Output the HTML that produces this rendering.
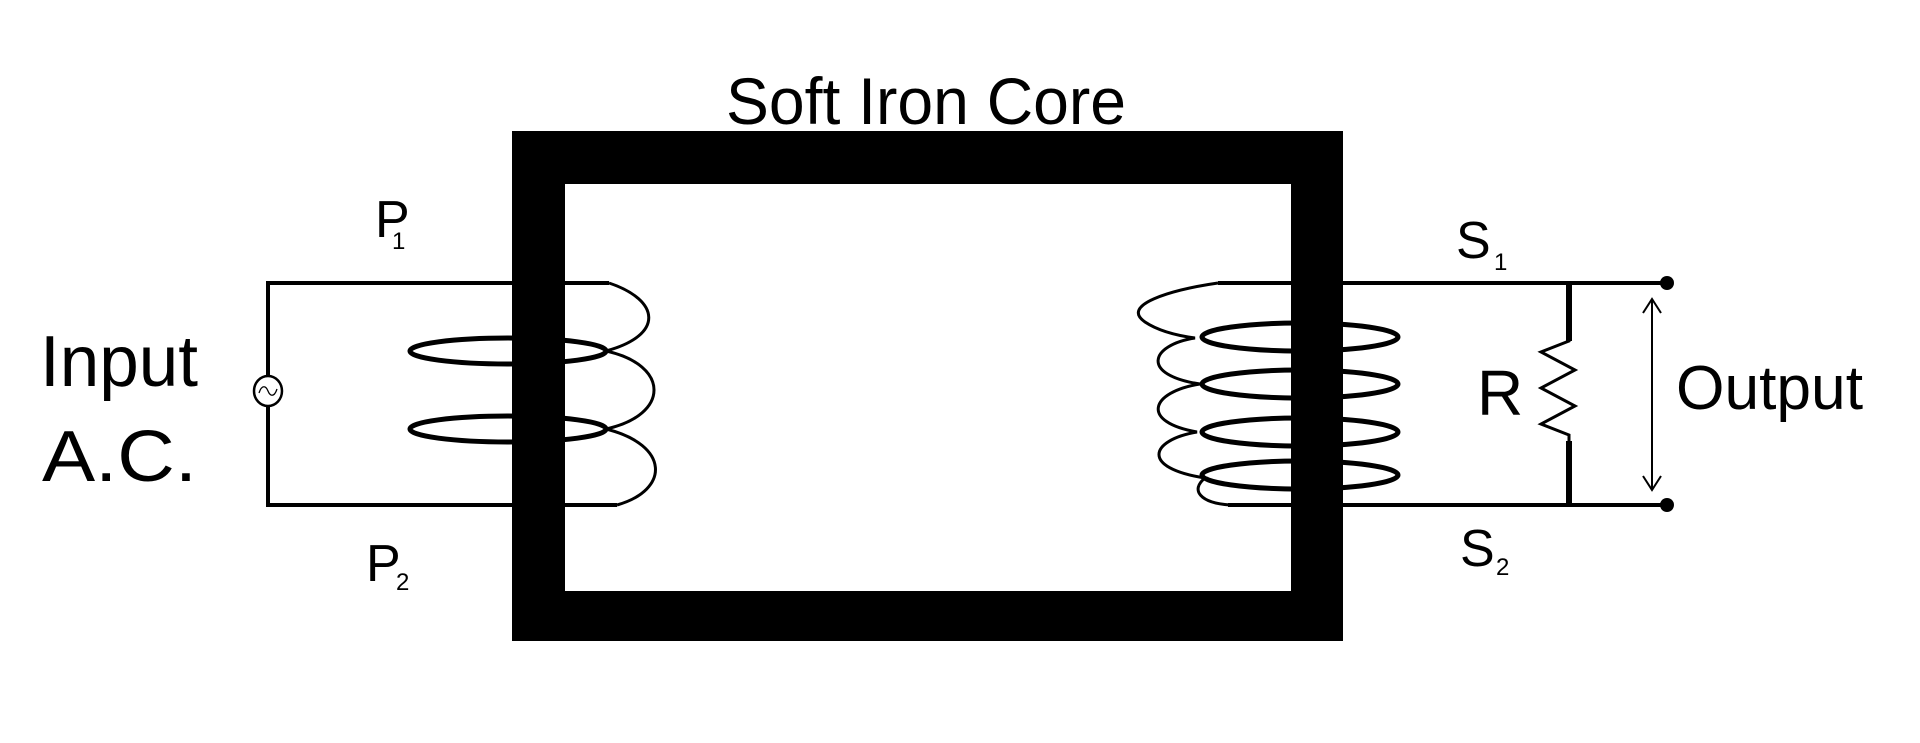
<!DOCTYPE html>
<html><head><meta charset="utf-8"><style>
html,body{margin:0;padding:0;background:#fff;}
svg{display:block}
text{font-family:"Liberation Sans",sans-serif;fill:#000}
</style></head><body>
<svg width="1920" height="743" viewBox="0 0 1920 743" xmlns="http://www.w3.org/2000/svg">
<!-- primary circuit wires -->
<g fill="none" stroke="#000" stroke-width="4">
<polyline points="609,283 268,283 268,376"/>
<polyline points="268,406 268,505 617,505"/>
</g>
<ellipse cx="268" cy="391" rx="14" ry="15" fill="#fff" stroke="#000" stroke-width="2.5"/>
<path d="M259,393 C262,384 266,386 268,391 C270,396 274,398 277,389" fill="none" stroke="#000" stroke-width="1.3"/>
<!-- primary coil -->
<g fill="none" stroke="#000">
<ellipse cx="508" cy="351" rx="98" ry="13" stroke-width="5"/>
<ellipse cx="508" cy="429" rx="98" ry="13" stroke-width="5"/>
<path d="M609,283 C660,300 665,335 606,351 C670,365 670,415 606,429 C670,445 670,490 617,505" stroke-width="3"/>
</g>
<!-- secondary coil -->
<g fill="none" stroke="#000">
<line x1="1218" y1="283" x2="1343" y2="283" stroke-width="4"/>
<line x1="1228" y1="505" x2="1343" y2="505" stroke-width="4"/>
<ellipse cx="1300" cy="337" rx="98" ry="14" stroke-width="5"/>
<ellipse cx="1300" cy="384" rx="98" ry="14" stroke-width="5"/>
<ellipse cx="1300" cy="432" rx="98" ry="14" stroke-width="5"/>
<ellipse cx="1300" cy="475" rx="98" ry="14" stroke-width="5"/>
<path d="M1218,283 C1170,290 1120,305 1145,322 C1160,332 1180,336 1195,338 C1150,345 1140,375 1200,384 C1150,392 1140,422 1197,432 C1150,440 1140,468 1205,478 C1190,490 1200,503 1230,505" stroke-width="3"/>
</g>
<!-- core -->
<path fill="#000" fill-rule="evenodd" d="M512,131 H1343 V641 H512 Z M565,184 V591 H1291 V184 Z"/>
<!-- secondary wires -->
<g fill="none" stroke="#000" stroke-width="4">
<line x1="1343" y1="283" x2="1667" y2="283"/>
<line x1="1343" y1="505" x2="1667" y2="505"/>
<polyline points="1569,283 1569,341 1541,352 1575,370 1541,388 1575,406 1541,424 1569,435 1569,505" stroke-width="3"/>
</g>
<polyline points="1569,283 1569,341" stroke="#000" stroke-width="6" fill="none"/>
<polyline points="1569,441 1569,505" stroke="#000" stroke-width="6" fill="none"/>
<circle cx="1667" cy="283" r="7" fill="#000"/>
<circle cx="1667" cy="505" r="7" fill="#000"/>
<g fill="none" stroke="#000" stroke-width="2">
<line x1="1652" y1="299" x2="1652" y2="490"/>
<polyline points="1643,313 1652,299 1661,313"/>
<polyline points="1643,476 1652,490 1661,476"/>
</g>
<!-- labels -->
<text x="726" y="124" font-size="66" textLength="400" lengthAdjust="spacingAndGlyphs">Soft Iron Core</text>
<text x="375" y="237" font-size="52">P</text><text x="392" y="249" font-size="24">1</text>
<text x="366" y="581" font-size="52">P</text><text x="396" y="590" font-size="24">2</text>
<text x="1456" y="258" font-size="52">S</text><text x="1494" y="270" font-size="24">1</text>
<text x="1460" y="566" font-size="52">S</text><text x="1496" y="575" font-size="24">2</text>
<text x="40" y="386" font-size="72" textLength="158" lengthAdjust="spacingAndGlyphs">Input</text>
<text x="42" y="481" font-size="72" textLength="155" lengthAdjust="spacingAndGlyphs">A.C.</text>
<text x="1477" y="415" font-size="64">R</text>
<text x="1676" y="409" font-size="62" textLength="187" lengthAdjust="spacingAndGlyphs">Output</text>
</svg>
</body></html>
